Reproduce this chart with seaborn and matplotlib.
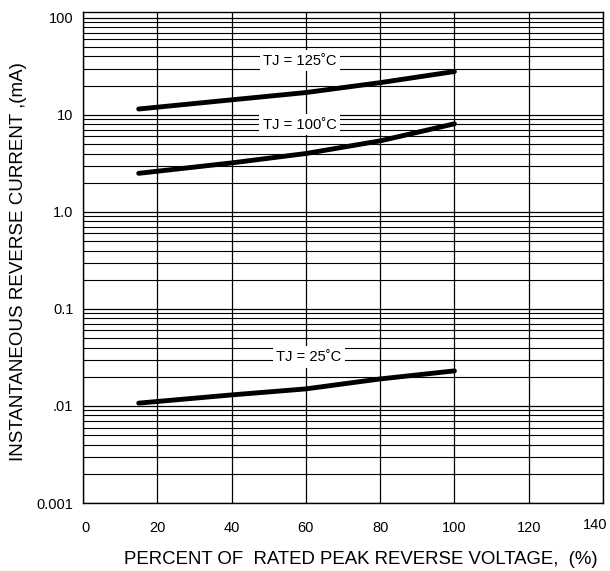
import matplotlib
matplotlib.use("Agg")
import matplotlib.pyplot as plt
import seaborn as sns
import pandas as pd
from matplotlib.ticker import FixedLocator, FixedFormatter, LogLocator, NullFormatter
from matplotlib.transforms import ScaledTranslation

# Data
percent = [15, 40, 60, 80, 100]
i_125 = [11.5, 14.3, 17.0, 21.5, 28.0]
i_100 = [2.5, 3.2, 4.0, 5.4, 8.1]
i_25 = [0.0107, 0.013, 0.015, 0.019, 0.023]
series_names = ["TJ = 125˚C", "TJ = 100˚C", "TJ = 25˚C"]
x_ticks = [0, 20, 40, 60, 80, 100, 120, 140]
y_ticks = [0.001, 0.01, 0.1, 1.0, 10, 100]
y_tick_labels = ["0.001", ".01", "0.1", "1.0", "10", "100"]

sns.set_style("white")
plt.rcParams['font.family'] = ['Liberation Sans', 'DejaVu Sans']
plt.rcParams['text.color'] = 'black'

rows = []
for name, vals in zip(series_names, [i_125, i_100, i_25]):
    for x, v in zip(percent, vals):
        rows.append({"percent": x, "current": v, "series": name})
df = pd.DataFrame(rows)

W, H = 610, 571
fig = plt.figure(figsize=(W/100, H/100), dpi=100)
ax = fig.add_axes([83/W, 1-503/H, (603-83)/W, (503-12)/H])

ax.set_yscale("log")
ax.set_xlim(0, 140)
ax.set_ylim(0.001, 115)

# grid
ax.xaxis.set_major_locator(FixedLocator(x_ticks))
ax.yaxis.set_major_locator(FixedLocator(y_ticks))
ax.yaxis.set_major_formatter(FixedFormatter(y_tick_labels))
ax.yaxis.set_minor_locator(LogLocator(base=10, subs=range(2, 10)))
ax.yaxis.set_minor_formatter(NullFormatter())
ax.grid(True, which="major", axis="both", color="black", linewidth=0.9)
ax.grid(True, which="minor", axis="y", color="black", linewidth=0.8)
ax.set_axisbelow(True)

sns.lineplot(data=df, x="percent", y="current", units="series", estimator=None,
             color="black", linewidth=3.5, ax=ax, legend=False, solid_capstyle="round")
ax.set_xlabel("")
ax.set_ylabel("")

label_pos = [(58.4, 36.0), (58.4, 7.9), (60.8, 0.032)]
for name, (lx, ly) in zip(series_names, label_pos):
    ax.text(lx, ly, name, ha="center", va="center", fontsize=10.6, color="black",
            bbox=dict(facecolor="white", edgecolor="none", pad=2.5), zorder=5)

for s in ax.spines.values():
    s.set_color("black")
    s.set_linewidth(1.0)

ax.tick_params(axis="both", which="both", length=0, labelsize=10.5, colors="black")
ax.tick_params(axis="x", pad=13)
ax.tick_params(axis="y", pad=7)

fig.canvas.draw()
xlabels = ax.get_xticklabels()
xlabels[0].set_transform(xlabels[0].get_transform() + ScaledTranslation(3/100, 0, fig.dpi_scale_trans))
xlabels[-1].set_transform(xlabels[-1].get_transform() + ScaledTranslation(-8/100, 3/100, fig.dpi_scale_trans))

fig.text(361/W, 1-560/H, "PERCENT OF  RATED PEAK REVERSE VOLTAGE,  (%)",
         fontsize=13.4, ha="center", va="center", color="black")
fig.text(19/W, 1-262/H, "INSTANTANEOUS REVERSE CURRENT ,(mA)",
         fontsize=13.5, ha="center", va="center", rotation=90, color="black")

fig.savefig("out.png", dpi=100)
